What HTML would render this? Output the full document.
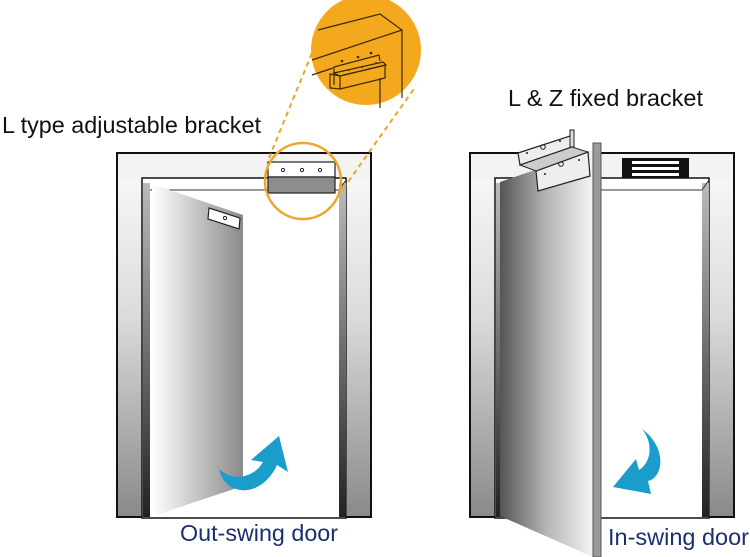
<!DOCTYPE html>
<html><head><meta charset="utf-8"><style>
html,body{margin:0;padding:0;background:#fff;width:750px;height:557px;overflow:hidden}
svg{display:block}
text{font-family:"Liberation Sans",sans-serif}
</style></head><body>
<svg width="750" height="557" viewBox="0 0 750 557" xmlns="http://www.w3.org/2000/svg">
<defs>
<linearGradient id="jamb" x1="0" y1="0" x2="0" y2="1">
<stop offset="0" stop-color="#f6f6f6"/><stop offset="0.4" stop-color="#dcdcdc"/><stop offset="1" stop-color="#8a8a8a"/></linearGradient>
<linearGradient id="jambDark" x1="0" y1="0" x2="0" y2="1">
<stop offset="0" stop-color="#bbb"/><stop offset="1" stop-color="#222"/></linearGradient>
<linearGradient id="doorL" x1="0" y1="0" x2="1" y2="0">
<stop offset="0" stop-color="#ffffff"/><stop offset="1" stop-color="#8a8a8a"/></linearGradient>
<linearGradient id="doorR" x1="0" y1="0" x2="1" y2="0">
<stop offset="0" stop-color="#555"/><stop offset="0.5" stop-color="#b5b5b5"/><stop offset="1" stop-color="#f4f4f4"/></linearGradient>
</defs>

<!-- LEFT FRAME -->
<rect x="117" y="153" width="254" height="364" fill="#f3f3f3" stroke="#111" stroke-width="2"/>
<rect x="118" y="179" width="24" height="337" fill="url(#jamb)"/>
<rect x="347" y="179" width="23" height="337" fill="url(#jamb)"/>
<rect x="117" y="153" width="254" height="364" fill="none" stroke="#111" stroke-width="2"/>
<rect x="142" y="178" width="204" height="340" fill="#fff" stroke="#111" stroke-width="1.5"/>
<rect x="143" y="183" width="7" height="334" fill="url(#jambDark)"/>
<rect x="339" y="183" width="7" height="334" fill="url(#jambDark)"/>
<line x1="150" y1="190" x2="339" y2="190" stroke="#333" stroke-width="1"/>
<line x1="339" y1="190" x2="346" y2="180" stroke="#333" stroke-width="1"/>
<!-- left door -->
<polygon points="152,184 243,215 243,486 153,516" fill="url(#doorL)"/>
<polygon points="209,208 240,218 239,229 208,219" fill="#fff" stroke="#222" stroke-width="1.2"/>
<circle cx="225" cy="218" r="1.6" fill="none" stroke="#222"/>
<!-- header bracket -->
<rect x="268" y="162" width="67" height="15" fill="#fff" stroke="#222" stroke-width="1.2"/>
<rect x="268" y="177" width="67" height="16" fill="#8d8d8d" stroke="#222" stroke-width="1.2"/>
<circle cx="283" cy="170" r="1.6" fill="none" stroke="#222"/>
<circle cx="302" cy="170" r="1.6" fill="none" stroke="#222"/>
<circle cx="320" cy="170" r="1.6" fill="none" stroke="#222"/>
<circle cx="303" cy="181" r="38" fill="none" stroke="#eea52a" stroke-width="2.5"/>
<line x1="269" y1="158" x2="314" y2="48" stroke="#e9a52d" stroke-width="2" stroke-dasharray="5,4"/>
<line x1="343" y1="189" x2="416" y2="86" stroke="#e9a52d" stroke-width="2" stroke-dasharray="5,4"/>
<!-- zoom circle -->
<circle cx="366" cy="50" r="55" fill="#f4a81e"/>
<g fill="none" stroke="#3a2a00" stroke-width="1.2">
<polyline points="318,30 380,14 402,30 402,98"/>
<line x1="312" y1="60" x2="402" y2="30"/>
<line x1="312" y1="75" x2="333" y2="68"/>
<polyline points="334,85 334,67 379,55 380,61"/>
<polygon points="334,73 383,62 386,65 340,76"/>
<polygon points="330,74 340,76 340,89 330,88"/>
<polyline points="340,76 385,65 385,78 340,89"/>
<line x1="380" y1="78" x2="380" y2="108"/>
</g>
<g fill="#3a2a00"><circle cx="342" cy="61" r="1.3"/><circle cx="358" cy="57" r="1.3"/><circle cx="371" cy="53" r="1.3"/><circle cx="349" cy="70" r="1"/><circle cx="362" cy="67" r="1"/><circle cx="376" cy="63" r="1"/></g>

<text x="2" y="133" font-size="23" fill="#111" textLength="259" lengthAdjust="spacingAndGlyphs">L type adjustable bracket</text>

<!-- out-swing arrow -->
<path d="M219,469 C226,498 262,498 277,465 L288,472 L279,436 L251,460 L263,462 C254,478 233,482 219,469 Z" fill="#1b9dcb"/>
<text x="180" y="541" font-size="23" fill="#1b2e6f" textLength="158" lengthAdjust="spacingAndGlyphs">Out-swing door</text>

<!-- RIGHT FRAME -->
<rect x="470" y="153" width="264" height="364" fill="#f3f3f3" stroke="#111" stroke-width="2"/>
<rect x="471" y="179" width="24" height="337" fill="url(#jamb)"/>
<rect x="710" y="179" width="23" height="337" fill="url(#jamb)"/>
<rect x="470" y="153" width="264" height="364" fill="none" stroke="#111" stroke-width="2"/>
<rect x="495" y="178" width="214" height="340" fill="#fff" stroke="#111" stroke-width="1.5"/>
<rect x="496" y="183" width="6" height="334" fill="url(#jambDark)"/>
<rect x="702" y="183" width="7" height="334" fill="url(#jambDark)"/>
<line x1="600" y1="190" x2="702" y2="190" stroke="#333" stroke-width="1"/>
<line x1="702" y1="190" x2="709" y2="180" stroke="#333" stroke-width="1"/>
<!-- magnet -->
<rect x="622" y="158" width="67" height="20" fill="#111"/>
<rect x="632" y="161" width="47" height="3" fill="#fff"/>
<rect x="632" y="167" width="47" height="3" fill="#fff"/>
<rect x="632" y="173" width="47" height="3" fill="#fff"/>
<!-- right door -->
<polygon points="500,182 593,150 593,557 500,516" fill="url(#doorR)"/>
<rect x="593" y="143" width="8" height="414" fill="#9a9a9a" stroke="#555" stroke-width="1"/>
<!-- Z bracket -->
<polygon points="518,153 570,136 572,147 520,165" fill="#eee" stroke="#222" stroke-width="1.2"/>
<polygon points="570,130 574,130 574,147 570,147" fill="#ddd" stroke="#222" stroke-width="1"/>
<polygon points="536,171 588,152 590,176 538,191" fill="#eee" stroke="#222" stroke-width="1.2"/>
<polygon points="520,165 572,147 588,152 536,171" fill="#ccc" stroke="#222" stroke-width="1"/>
<circle cx="543" cy="147" r="2.3" fill="none" stroke="#222"/>
<circle cx="561" cy="164" r="2.3" fill="none" stroke="#222"/>
<circle cx="527" cy="153" r="1" fill="#222"/><circle cx="560" cy="141" r="1" fill="#222"/>
<circle cx="545" cy="174" r="1" fill="#222"/><circle cx="579" cy="160" r="1" fill="#222"/>

<text x="508" y="106" font-size="23" fill="#111" textLength="195" lengthAdjust="spacingAndGlyphs">L &amp; Z fixed bracket</text>

<!-- in-swing arrow -->
<path d="M642,429 C668,448 663,478 648,481 L651,494 L613,487 L636,459 L639,470 C652,462 653,442 642,429 Z" fill="#1b9dcb"/>
<text x="608" y="545" font-size="23" fill="#1b2e6f" textLength="141" lengthAdjust="spacingAndGlyphs">In-swing door</text>
</svg>
</body></html>
